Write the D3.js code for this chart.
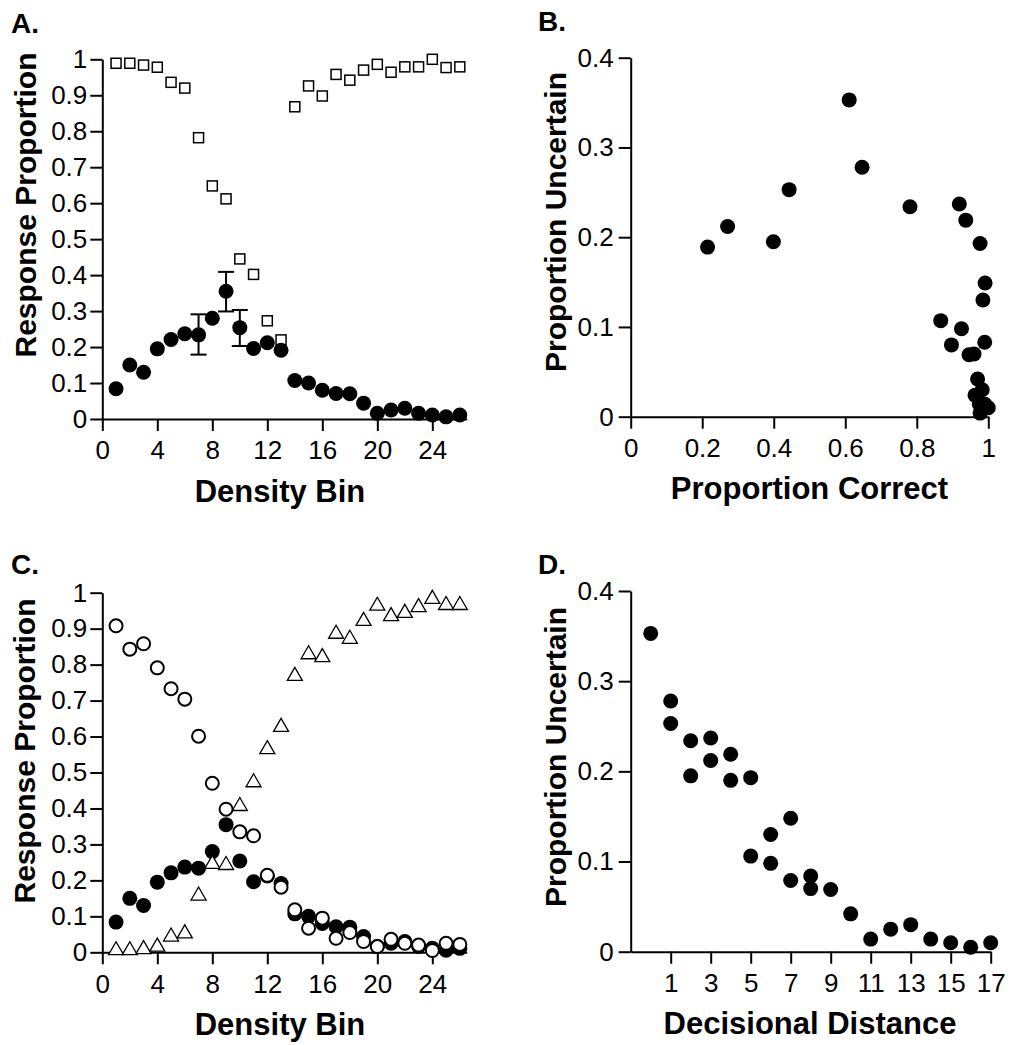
<!DOCTYPE html>
<html>
<head>
<meta charset="utf-8">
<script src="https://cdn.jsdelivr.net/npm/d3@7"></script>
<style>
  body { margin: 0; background: #fff; }
  text { font-family: "Liberation Sans", Arial, Helvetica, sans-serif; fill: #000; }
</style>
</head>
<body>
<script>
// ---- data ----
var bins = [1, 2, 3, 4, 5, 6, 7, 8, 9, 10, 11, 12, 13, 14, 15, 16, 17, 18, 19, 20, 21, 22, 23, 24, 25, 26];
var squareVals = [0.989, 0.989, 0.984, 0.978, 0.936, 0.920, 0.782, 0.648, 0.612, 0.445, 0.402, 0.273, 0.220,
                  0.868, 0.926, 0.898, 0.958, 0.942, 0.970, 0.986, 0.964, 0.979, 0.979, 1.000, 0.977, 0.979];
var filledVals = [0.084, 0.150, 0.130, 0.195, 0.221, 0.237, 0.234, 0.280, 0.355, 0.254, 0.196, 0.212, 0.191,
                  0.107, 0.100, 0.080, 0.071, 0.070, 0.044, 0.016, 0.025, 0.030, 0.016, 0.011, 0.006, 0.011];
var openVals = [0.908, 0.843, 0.858, 0.791, 0.733, 0.704, 0.601, 0.470, 0.398, 0.335, 0.324, 0.214, 0.181,
                0.118, 0.067, 0.095, 0.039, 0.055, 0.030, 0.016, 0.036, 0.025, 0.020, 0.005, 0.025, 0.022];
var triVals = [0.010, 0.010, 0.013, 0.020, 0.048, 0.057, 0.162, 0.250, 0.247, 0.411, 0.477, 0.569, 0.631,
               0.773, 0.833, 0.825, 0.890, 0.876, 0.926, 0.968, 0.939, 0.948, 0.964, 0.987, 0.970, 0.970];
var errBins = [7, 9, 10];
var errLo = [0.179, 0.299, 0.203];
var errHi = [0.291, 0.409, 0.303];

var correctB = [0.215, 0.271, 0.399, 0.443, 0.611, 0.647, 0.781, 0.919, 0.937, 0.977, 0.991, 0.985, 0.867,
                0.925, 0.897, 0.990, 0.946, 0.960, 0.970, 0.983, 0.963, 0.975, 0.990, 1.000, 0.985, 0.977];
var uncertainB = [0.189, 0.212, 0.195, 0.253, 0.353, 0.278, 0.234, 0.237, 0.219, 0.193, 0.149, 0.130, 0.107,
                  0.098, 0.080, 0.083, 0.069, 0.070, 0.042, 0.030, 0.024, 0.014, 0.014, 0.010, 0.010, 0.004];

var distD = [0, 1, 1, 2, 2, 3, 3, 4, 4, 5, 5, 6, 6, 7, 7, 8, 8, 9, 10, 11, 12, 13, 14, 15, 16, 17];
var uncertainD = [0.353, 0.278, 0.253, 0.234, 0.195, 0.237, 0.212, 0.219, 0.190, 0.193, 0.106, 0.130, 0.098,
                  0.148, 0.079, 0.084, 0.070, 0.069, 0.042, 0.014, 0.025, 0.030, 0.014, 0.010, 0.005, 0.010];

var binTicks = [0, 4, 8, 12, 16, 20, 24];
var propTicks = [0, 0.1, 0.2, 0.3, 0.4, 0.5, 0.6, 0.7, 0.8, 0.9, 1];
var uncTicks = [0, 0.1, 0.2, 0.3, 0.4];
var correctTicks = [0, 0.2, 0.4, 0.6, 0.8, 1];
var distTicks = [1, 3, 5, 7, 9, 11, 13, 15, 17];

var width = 1011;
var height = 1045;
var svg = d3.select('body')
    .append('svg')
    .attr('width', width)
    .attr('height', height);

var fmt = d3.format('~g');

// draws the two axes + titles, returns scales
function panel(opt) {
    var x = d3.scaleLinear().domain(opt.xDomain).range(opt.xRange);
    var y = d3.scaleLinear().domain(opt.yDomain).range(opt.yRange);
    var g = svg.append('g');

    var xAxis = d3.axisBottom(x).tickValues(opt.xTicks).tickFormat(fmt)
        .tickSize(12).tickSizeOuter(0).tickPadding(10);
    var yAxis = d3.axisLeft(y).tickValues(opt.yTicks).tickFormat(fmt)
        .tickSize(12).tickSizeOuter(0).tickPadding(opt.yPad);

    var xg = g.append('g').attr('transform', 'translate(0,' + opt.yRange[0] + ')').call(xAxis);
    var yg = g.append('g').attr('transform', 'translate(' + opt.xRange[0] + ',0)').call(yAxis);
    [xg, yg].forEach(function (a) {
        a.selectAll('path, line').attr('stroke', '#000').attr('stroke-width', 2);
        a.selectAll('text').style('font-size', '26px').attr('fill', '#000');
    });

    g.append('text')
        .attr('x', opt.panelXY[0]).attr('y', opt.panelXY[1])
        .style('font-size', '28px').style('font-weight', 'bold')
        .text(opt.letter);
    g.append('text')
        .attr('x', opt.xTitleXY[0]).attr('y', opt.xTitleXY[1])
        .attr('text-anchor', 'middle')
        .style('font-size', '31px').style('font-weight', 'bold')
        .text(opt.xTitle);
    g.append('text')
        .attr('transform', 'translate(' + opt.yTitleXY[0] + ',' + opt.yTitleXY[1] + ') rotate(-90)')
        .attr('text-anchor', 'middle')
        .style('font-size', '30px').style('font-weight', 'bold')
        .text(opt.yTitle);
    return { x: x, y: y, g: g };
}

function dots(p, xs, ys, r) {
    p.g.append('g').selectAll('circle')
        .data(xs)
        .enter()
        .append('circle')
        .attr('cx', function (d) { return p.x(d); })
        .attr('cy', function (d, i) { return p.y(ys[i]); })
        .attr('r', r)
        .attr('fill', '#000');
}

// ---- A ----
var A = panel({
    xDomain: [0, 26.5], xRange: [102.3, 466.7],
    yDomain: [0, 1], yRange: [419, 59.3],
    xTicks: binTicks, yTicks: propTicks, yPad: 3,
    letter: 'A.', panelXY: [11, 33],
    xTitle: 'Density Bin', xTitleXY: [280, 502],
    yTitle: 'Response Proportion', yTitleXY: [36, 205]
});
A.g.append('g').selectAll('rect')
    .data(bins)
    .enter()
    .append('rect')
    .attr('x', function (d) { return A.x(d) - 5; })
    .attr('y', function (d, i) { return A.y(squareVals[i]) - 5; })
    .attr('width', 10)
    .attr('height', 10)
    .attr('fill', '#fff')
    .attr('stroke', '#000')
    .attr('stroke-width', 1.5);
var eb = A.g.append('g').attr('stroke', '#000').attr('stroke-width', 2);
errBins.forEach(function (b, i) {
    eb.append('line').attr('x1', A.x(b)).attr('x2', A.x(b)).attr('y1', A.y(errLo[i])).attr('y2', A.y(errHi[i]));
    eb.append('line').attr('x1', A.x(b) - 8).attr('x2', A.x(b) + 8).attr('y1', A.y(errLo[i])).attr('y2', A.y(errLo[i]));
    eb.append('line').attr('x1', A.x(b) - 8).attr('x2', A.x(b) + 8).attr('y1', A.y(errHi[i])).attr('y2', A.y(errHi[i]));
});
dots(A, bins, filledVals, 7.5);

// ---- B ----
var B = panel({
    xDomain: [0, 1], xRange: [630.7, 988.3],
    yDomain: [0, 0.4], yRange: [416.7, 57.7],
    xTicks: correctTicks, yTicks: uncTicks, yPad: 5,
    letter: 'B.', panelXY: [538, 31],
    xTitle: 'Proportion Correct', xTitleXY: [809.5, 499],
    yTitle: 'Proportion Uncertain', yTitleXY: [566, 222]
});
dots(B, correctB, uncertainB, 7.5);

// ---- C ----
var C = panel({
    xDomain: [0, 26.5], xRange: [102.3, 466.7],
    yDomain: [0, 1], yRange: [952.3, 592.7],
    xTicks: binTicks, yTicks: propTicks, yPad: 3,
    letter: 'C.', panelXY: [11, 574],
    xTitle: 'Density Bin', xTitleXY: [280, 1035],
    yTitle: 'Response Proportion', yTitleXY: [35, 751]
});
dots(C, bins, filledVals, 7.5);
C.g.append('g').selectAll('path')
    .data(bins)
    .enter()
    .append('path')
    .attr('d', 'M0,-7L7.5,6L-7.5,6Z')
    .attr('transform', function (d, i) { return 'translate(' + C.x(d) + ',' + C.y(triVals[i]) + ')'; })
    .attr('fill', '#fff')
    .attr('stroke', '#000')
    .attr('stroke-width', 1.3);
C.g.append('g').selectAll('circle')
    .data(bins)
    .enter()
    .append('circle')
    .attr('cx', function (d) { return C.x(d); })
    .attr('cy', function (d, i) { return C.y(openVals[i]); })
    .attr('r', 6.5)
    .attr('fill', '#fff')
    .attr('stroke', '#000')
    .attr('stroke-width', 2);

// ---- D ----
var D = panel({
    xDomain: [-1, 17], xRange: [630.7, 990.7],
    yDomain: [0, 0.4], yRange: [951.7, 591],
    xTicks: distTicks, yTicks: uncTicks, yPad: 5,
    letter: 'D.', panelXY: [538, 574],
    xTitle: 'Decisional Distance', xTitleXY: [810, 1034],
    yTitle: 'Proportion Uncertain', yTitleXY: [566, 757]
});
dots(D, distD, uncertainD, 7.5);
</script>
</body>
</html>
